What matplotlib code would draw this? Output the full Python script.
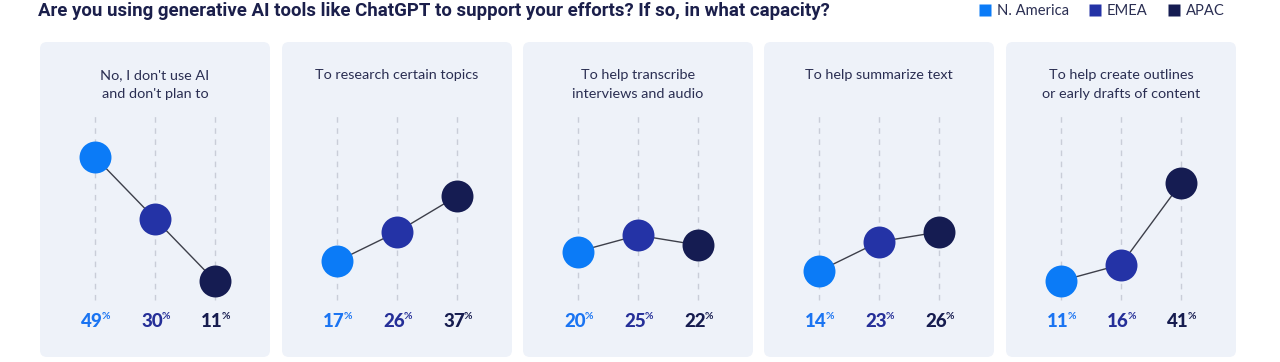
import matplotlib
matplotlib.use("Agg")
import matplotlib.pyplot as plt
from matplotlib.patches import FancyBboxPatch
from matplotlib.lines import Line2D
import matplotlib.transforms as mtransforms

# ---- data ----
title = "Are you using generative AI tools like ChatGPT to support your efforts? If so, in what capacity?"
regions = ["N. America", "EMEA", "APAC"]
categories = [
    "No, I don't use AI\nand don't plan to",
    "To research certain topics",
    "To help transcribe\ninterviews and audio",
    "To help summarize text",
    "To help create outlines\nor early drafts of content",
]
n_america = [49, 17, 20, 14, 11]
emea = [30, 26, 25, 23, 16]
apac = [11, 37, 22, 26, 41]

dot_colors = ["#0b7bf7", "#2433a6", "#151c52"]
label_colors = ["#1a74f2", "#252f98", "#161c4f"]
bg_panel = "#eef2f9"
navy = "#1b1f4b"

W, H = 1280, 362
fig = plt.figure(figsize=(W / 100, H / 100), dpi=100)
fig.patch.set_facecolor("white")

font = ["Lato", "DejaVu Sans"]

panel_lefts = [40, 282, 523, 764, 1006]
panel_w = 230
panel_top, panel_bot = 42, 357

for i, cat in enumerate(categories):
    L = panel_lefts[i]
    ax = fig.add_axes([L / W, (H - panel_bot) / H, panel_w / W, (panel_bot - panel_top) / H])
    ax.set_xlim(-115 / 60, 115 / 60)
    ax.set_ylim(-12.35, 84.28)
    ax.axis("off")
    bg = FancyBboxPatch((0.0, 0.0), 1.0, 1.0, boxstyle="round,pad=0,rounding_size=0.03",
                        transform=ax.transAxes, facecolor=bg_panel, edgecolor="none",
                        mutation_aspect=panel_w / (panel_bot - panel_top), zorder=0, clip_on=False)
    ax.add_patch(bg)
    vals = [n_america[i], emea[i], apac[i]]
    xs = [-1, 0, 1]
    for x in xs:
        ax.plot([x, x], [5.1, 61.9], color="#c9cdd8", lw=1.0, ls=(0, (4, 4)), zorder=1)
    ax.plot(xs, vals, color="#3d3f4a", lw=1.0, zorder=2)
    for x, v, c in zip(xs, vals, dot_colors):
        ax.plot([x], [v], "o", ms=23, color=c, mec="none", zorder=3)
    ax.text(0.5, (panel_bot - 69) / (panel_bot - panel_top), cat, transform=ax.transAxes,
            ha="center", va="top", fontsize=10.4, color="#2a2e52", family=font,
            linespacing=1.75)
    for x, v, c in zip(xs, vals, label_colors):
        tr = mtransforms.offset_copy(ax.transData, fig=fig, x=-3, y=0, units="dots")
        t = ax.text(x, -1.6, str(v), transform=tr,
                    ha="center", va="center", fontsize=13.5, fontweight="black", color=c, family=font)
        ax.annotate("%", xy=(0.95, 0.85), xycoords=t, ha="left", va="center",
                    fontsize=7.5, fontweight="bold", color=c, family=font)

fig.text(38 / W, 1 - 11 / H, title, ha="left", va="center", fontsize=13.4,
         fontweight="bold", color=navy, family=["Roboto", "DejaVu Sans"])

handles = [Line2D([], [], marker="s", ls="none", ms=8, color=c, mec="none") for c in dot_colors]
fig.legend(handles, regions, loc="center right", bbox_to_anchor=(1238 / W, 1 - 11 / H),
           ncol=3, frameon=False, handletextpad=0.3, columnspacing=1.3, handlelength=1.0,
           prop={"family": font, "size": 10.6}, labelcolor="#2a2e52")

fig.savefig("out.png", dpi=100, facecolor="white")
